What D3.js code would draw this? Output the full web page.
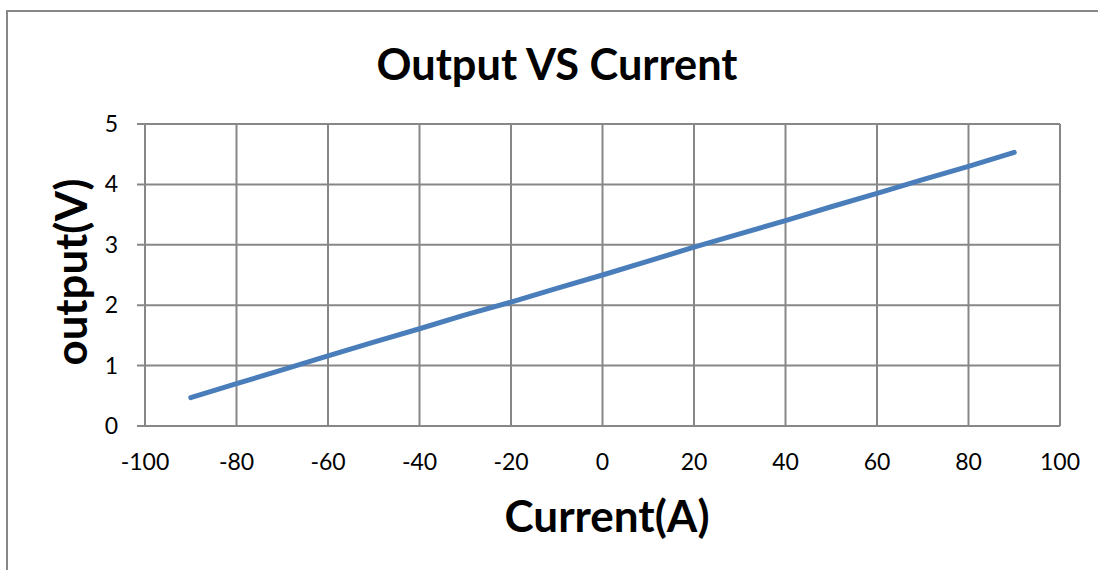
<!DOCTYPE html>
<html>
<head>
<meta charset="utf-8">
<script src="https://cdn.jsdelivr.net/npm/d3@7"></script>
<style>
  body { margin: 0; background: #fff; }
  svg { display: block; }
  text { font-family: Lato, "Open Sans", "Liberation Sans", sans-serif; fill: #000; }
</style>
</head>
<body>
<div id="chart"></div>
<script>
// values
let current = [-90, -80, -70, -60, -50, -40, -30, -20, -10, 0, 10, 20, 30, 40, 50, 60, 70, 80, 90];
let output = [0.47, 0.70, 0.93, 1.16, 1.39, 1.61, 1.84, 2.05, 2.28, 2.50, 2.73, 2.96, 3.18, 3.40, 3.63, 3.85, 4.08, 4.30, 4.53];
let xTicks = [-100, -80, -60, -40, -20, 0, 20, 40, 60, 80, 100];
let yTicks = [0, 1, 2, 3, 4, 5];

var W = 1098, H = 570;
var plot = {left: 145, right: 1060, top: 124, bottom: 426};
var gridColor = '#878787';

let svg = d3.select('#chart').append('svg').attr('width', W).attr('height', H);

// chart frame (cut off on the right and bottom)
svg.append('rect')
  .attr('x', 7).attr('y', 11)
  .attr('width', W + 10).attr('height', H + 10)
  .attr('fill', '#fff').attr('stroke', gridColor).attr('stroke-width', 2);

let x = d3.scaleLinear().domain([-100, 100]).range([plot.left, plot.right]);
let y = d3.scaleLinear().domain([0, 5]).range([plot.bottom, plot.top]);

// grid
let g = svg.append('g');
g.selectAll('.vgrid').data(xTicks).enter().append('line')
  .attr('x1', d => x(d)).attr('x2', d => x(d))
  .attr('y1', plot.top).attr('y2', plot.bottom)
  .attr('stroke', gridColor).attr('stroke-width', 2);
g.selectAll('.hgrid').data(yTicks).enter().append('line')
  .attr('x1', plot.left - 8).attr('x2', plot.right)
  .attr('y1', d => y(d)).attr('y2', d => y(d))
  .attr('stroke', gridColor).attr('stroke-width', 2);

// tick labels
svg.append('g').selectAll('text').data(yTicks).enter().append('text')
  .attr('x', 118).attr('y', d => y(d) + 8)
  .attr('text-anchor', 'end').attr('font-size', 23)
  .text(d => d);
svg.append('g').selectAll('text').data(xTicks).enter().append('text')
  .attr('x', d => x(d)).attr('y', 470)
  .attr('text-anchor', 'middle').attr('font-size', 23)
  .text(d => d);

// series
let line = d3.line().x((d, i) => x(current[i])).y(d => y(d));
svg.append('path').datum(output)
  .attr('d', line)
  .attr('fill', 'none').attr('stroke', '#4a7ebb')
  .attr('stroke-width', 5).attr('stroke-linecap', 'round').attr('stroke-linejoin', 'round');

// fit bold text to a target width
function fit(sel, target) {
  let fs = +sel.attr('font-size');
  let w = sel.node().getComputedTextLength();
  sel.attr('font-size', fs * target / w);
}

let title = svg.append('text')
  .attr('x', 557).attr('y', 80).attr('text-anchor', 'middle')
  .attr('font-weight', 'bold').attr('font-size', 40)
  .text('Output VS Current');
fit(title, 361);

let xl = svg.append('text')
  .attr('x', 607).attr('y', 532).attr('text-anchor', 'middle')
  .attr('font-weight', 'bold').attr('font-size', 40)
  .text('Current(A)');
fit(xl, 205);

let yl = svg.append('text')
  .attr('transform', 'translate(87,272) rotate(-90)').attr('text-anchor', 'middle')
  .attr('font-weight', 'bold').attr('font-size', 40)
  .text('output(V)');
fit(yl, 187);
</script>
</body>
</html>
